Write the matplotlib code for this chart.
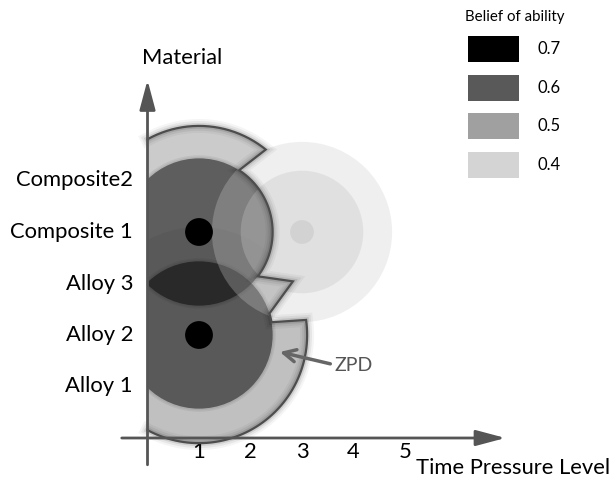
import numpy as np
import matplotlib.pyplot as plt
from matplotlib.patches import Polygon, Circle, Rectangle
import matplotlib.patheffects as pe

plt.rcParams['font.family'] = ['Lato', 'DejaVu Sans']

# categories and levels
materials = ['Alloy 1', 'Alloy 2', 'Alloy 3', 'Composite 1', 'Composite2']
time_levels = [1, 2, 3, 4, 5]

# learner ability points (time level, material level)
learner_x = [1, 1]
learner_y = [2, 4]
zpd_outer_r = [2.10, 2.06]   # lower, upper
belief_r = 1.43              # radius of the 0.6 belief zone
dot_r = 0.27

# faint target zone
target_x, target_y = 3, 4
target_r = [1.75, 1.19, 0.23]

# legend
belief_levels = ['0.7', '0.6', '0.5', '0.4']
belief_colors = ['#000000', '#595959', '#a0a0a0', '#d4d4d4']

# 1 data unit = 51.5 px, origin at pixel (147.5, 438)
U = 51.5
fig = plt.figure(figsize=(6.11, 4.84), dpi=100)
ax = fig.add_axes([0, 0, 1, 1])
ax.set_xlim(-147.5 / U, (611 - 147.5) / U)
ax.set_ylim((438 - 484) / U, 438 / U)
ax.axis('off')


def arc(cx, cy, r, a0, a1, n=120):
    t = np.radians(np.linspace(a0, a1, n))
    return np.column_stack([cx + r * np.cos(t), cy + r * np.sin(t)])


lx, ly = learner_x[0], learner_y[0]
ux, uy = learner_x[1], learner_y[1]
rl, ru = zpd_outer_r

# intersection of the two outer circles on the right
yi = (uy + ly) / 2 + (rl**2 - ru**2) / (2 * (uy - ly))
xi = ux + np.sqrt(ru**2 - (yi - uy)**2)

a_top = np.degrees(np.arccos(-ux / ru))
a_bot = -np.degrees(np.arccos(-lx / rl))
outline = np.vstack([
    arc(ux, uy, ru, a_top, 51),
    arc(ux, uy, belief_r, 57, -37),
    [[xi, yi]],
    arc(lx, ly, belief_r, 17, 10, 10),
    arc(lx, ly, rl, 8, a_bot),
])
zone = np.vstack([outline, [[0, outline[-1, 1]], [0, outline[0, 1]]]])

zpd = Polygon(zone, closed=True, facecolor='#cbcbcb', edgecolor='none', zorder=1)
ax.add_patch(zpd)

lower = Circle((lx, ly), rl, facecolor='black', alpha=0.05, edgecolor='none', zorder=2)
ax.add_patch(lower)
lower.set_clip_path(zpd)

for x, y in zip(learner_x, learner_y):
    # soft edge, then the disc
    for k, w in enumerate([0.06, 0.03]):
        e = Circle((x, y), belief_r + w, facecolor='black', alpha=0.06,
                   edgecolor='none', zorder=3)
        ax.add_patch(e)
        e.set_clip_path(zpd)
    c = Circle((x, y), belief_r, facecolor='black', alpha=0.47, edgecolor='none', zorder=3)
    ax.add_patch(c)
    c.set_clip_path(zpd)

# target zone on top, semi transparent
for r, col, a in zip(target_r, ['#cccccc', '#c4c4c4', '#b3b3b3'], [0.3, 0.33, 0.3]):
    ax.add_patch(Circle((target_x, target_y), r, facecolor=col, alpha=a,
                        edgecolor='none', zorder=4))

# outline with soft shadow
ax.plot(outline[:, 0], outline[:, 1], color='#4d4d4d', lw=1.6, zorder=5,
        solid_joinstyle='miter',
        path_effects=[pe.Stroke(linewidth=10, foreground='black', alpha=0.04),
                      pe.Stroke(linewidth=7, foreground='black', alpha=0.06),
                      pe.Stroke(linewidth=4, foreground='black', alpha=0.1),
                      pe.Normal()])

for x, y in zip(learner_x, learner_y):
    ax.add_patch(Circle((x, y), dot_r, facecolor='black', edgecolor='none', zorder=6))

# axes with arrows
axis_col = '#555555'
head = '-|>,head_length=1.8,head_width=0.48'
ax.annotate('', xy=(6.95, 0), xytext=(-0.5, 0),
            arrowprops=dict(arrowstyle=head, color=axis_col, lw=2,
                            shrinkA=0, shrinkB=0), zorder=7)
ax.annotate('', xy=(0, 6.95), xytext=(0, -0.52),
            arrowprops=dict(arrowstyle=head, color=axis_col, lw=2,
                            shrinkA=0, shrinkB=0), zorder=7)

fs = 15.8
for t in time_levels:
    ax.text(t, -0.27, str(t), ha='center', va='center', fontsize=fs, color='black')
for i, m in enumerate(materials):
    ax.text(-0.28, i + 1, m, ha='right', va='center', fontsize=fs, color='black')

ax.text(0.67, 7.38, 'Material', ha='center', va='center', fontsize=fs)
ax.text(9.0 - 0.01, -0.58, 'Time Pressure Level', ha='right', va='center', fontsize=fs)

# ZPD label
ax.annotate('', xy=(2.57, 1.67), xytext=(3.55, 1.44),
            arrowprops=dict(arrowstyle='->', color='#666666', lw=2.5,
                            mutation_scale=22, shrinkA=0, shrinkB=0), zorder=8)
ax.text(3.64, 1.40, 'ZPD', ha='left', va='center', fontsize=14, color='#555555')

# legend
fig.text(515 / 611, 1 - 17 / 484, 'Belief of ability', ha='center', va='center', fontsize=10.8)
for i, (lab, col) in enumerate(zip(belief_levels, belief_colors)):
    cy = 49 + i * 38.7
    fig.add_artist(Rectangle((468 / 611, 1 - (cy + 13) / 484), 51 / 611, 26 / 484,
                             transform=fig.transFigure, facecolor=col, edgecolor='none'))
    fig.text(538 / 611, 1 - cy / 484, lab, ha='left', va='center', fontsize=12)

fig.savefig('out.png', dpi=100)
